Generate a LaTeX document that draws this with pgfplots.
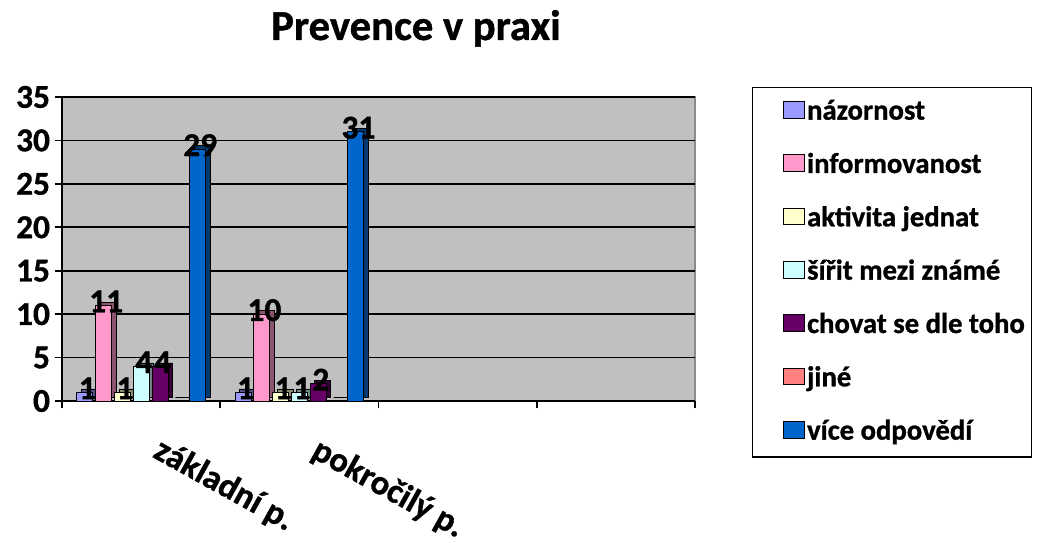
\documentclass[border=0pt]{standalone}
\usepackage{pgfplots}
\pgfplotsset{compat=1.18}
\usepackage{fontspec}
\setmainfont{Carlito}[UprightFont=* Bold, BoldFont=* Bold, UprightFeatures={FakeBold=1}, BoldFeatures={FakeBold=1}]
\definecolor{c1}{HTML}{9999FF}
\definecolor{c2}{HTML}{FF99CC}
\definecolor{c3}{HTML}{FFFFCC}
\definecolor{c4}{HTML}{CCFFFF}
\definecolor{c5}{HTML}{660066}
\definecolor{c6}{HTML}{FF8080}
\definecolor{c7}{HTML}{0066CC}
\definecolor{wall}{HTML}{C0C0C0}
\definecolor{wallframe}{HTML}{8C8C8C}
\tikzset{bar3d/.style={fill=#1, draw=black, line width=0.6pt,
  preaction={fill=#1!55!black, draw=black, line width=0.6pt, transform canvas={shift={(3.5pt,2.5pt)}}}}}
\pgfplotsset{legsq/.style={legend image code/.code={\path (0pt,0pt);
  \draw[fill=#1, draw=black, line width=0.7pt] (19.5pt,-4.25pt) rectangle (35pt,8.25pt);}}}
\begin{document}
\begin{tikzpicture}
\useasboundingbox (0,0) rectangle (783pt,406.5pt);
\node[anchor=base, font=\fontsize{32}{38}\selectfont\bfseries] at (312pt,376.5pt) {Prevence v praxi};
\begin{axis}[
  at={(46.5pt,105.75pt)}, anchor=south west,
  scale only axis, width=474.75pt, height=228pt,
  xmin=-0.5, xmax=3.5, ymin=0, ymax=35,
  ytick={0,5,...,35},
  xtick={-0.5,0.5,1.5,2.5,3.5}, xticklabels={},
  extra x ticks={0,1}, extra x tick labels={základní p., pokročilý p.},
  extra x tick style={major tick length=0pt,
    tick label style={xshift=15.5pt, yshift=-21pt, rotate=-29, anchor=north west, font=\fontsize{26}{30}\selectfont\bfseries}},
  axis x line*=bottom, axis y line*=left,
  axis line style={black, line width=1.3pt, -},
  tick style={black, line width=1.3pt},
  major tick length=5.5pt, tick align=outside,
  ymajorgrids, grid style={black, line width=1.2pt},
  axis background/.style={fill=wall, draw=wallframe, line width=1pt},
  /pgf/number format/assume math mode=true,
  tick label style={font=\fontsize{25}{30}\selectfont\bfseries},
  every node near coord/.append style={font=\fontsize{25}{30}\selectfont\bfseries, black, anchor=center, yshift=3pt},
  legend style={at={(1.09,1.033)}, anchor=north west, draw=black, line width=1pt, fill=white,
    font=\fontsize{21.5}{26}\selectfont\bfseries, row sep=21pt, inner xsep=3pt, inner ysep=9pt,
    nodes={inner sep=0pt, inner xsep=2pt, text height=15pt, text depth=4pt}},
  legend cell align=left,
]
\addlegendimage{legsq=c1}
\addlegendimage{legsq=c2}
\addlegendimage{legsq=c3}
\addlegendimage{legsq=c4}
\addlegendimage{legsq=c5}
\addlegendimage{legsq=c6}
\addlegendimage{legsq=c7}
\addplot[forget plot, ybar, bar width=12pt, bar shift=-42.3pt, bar3d=c1, nodes near coords, nodes near coords style={xshift=-40.3pt}] coordinates {(0,1) (1,1)};
\addplot[forget plot, ybar, bar width=12pt, bar shift=-28.2pt, bar3d=c2, nodes near coords, nodes near coords style={xshift=-26.2pt}] coordinates {(0,11) (1,10)};
\addplot[forget plot, ybar, bar width=12pt, bar shift=-14.1pt, bar3d=c3, nodes near coords, nodes near coords style={xshift=-12.1pt}] coordinates {(0,1) (1,1)};
\addplot[forget plot, ybar, bar width=12pt, bar shift=0pt, bar3d=c4, nodes near coords, nodes near coords style={xshift=2pt}] coordinates {(0,4) (1,1)};
\addplot[forget plot, ybar, bar width=12pt, bar shift=14.1pt, bar3d=c5, nodes near coords, nodes near coords style={xshift=16.1pt}] coordinates {(0,4) (1,2)};
\addplot[forget plot, ybar, bar width=12pt, bar shift=28.2pt, bar3d=c6] coordinates {(0,0) (1,0)};
\addplot[forget plot, ybar, bar width=12pt, bar shift=42.3pt, bar3d=c7, nodes near coords, nodes near coords style={xshift=44.3pt}] coordinates {(0,29) (1,31)};
\legend{názornost, informovanost, aktivita jednat, šířit mezi známé, chovat se dle toho, jiné, více odpovědí}
\end{axis}
\end{tikzpicture}
\end{document}
